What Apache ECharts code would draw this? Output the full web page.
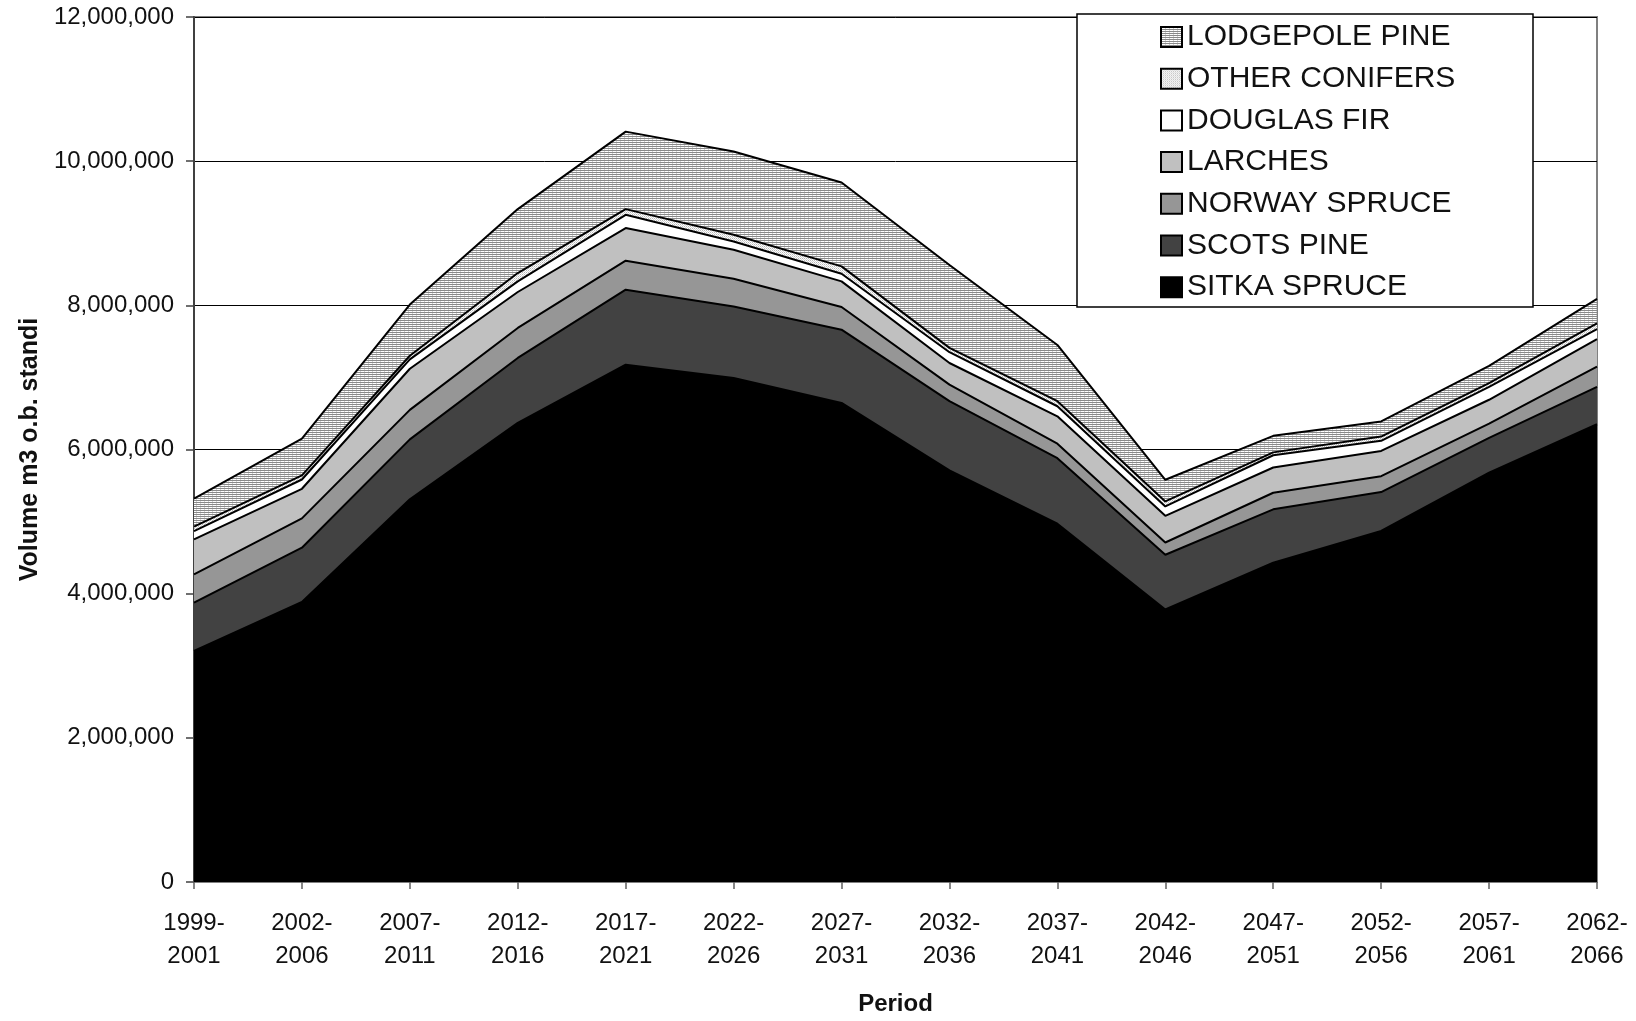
<!DOCTYPE html>
<html>
<head>
<meta charset="utf-8">
<script src="https://cdn.jsdelivr.net/npm/echarts@6/dist/echarts.min.js"></script>
<style>
  html, body { margin: 0; padding: 0; background: #fff; }
  #chart { width: 1636px; height: 1021px; }
</style>
</head>
<body>
<div id="chart"></div>
<script>
// Harvest volume forecast by species, stacked (m3 o.b. standing)
const periods = ['1999-\n2001', '2002-\n2006', '2007-\n2011', '2012-\n2016', '2017-\n2021',
  '2022-\n2026', '2027-\n2031', '2032-\n2036', '2037-\n2041', '2042-\n2046',
  '2047-\n2051', '2052-\n2056', '2057-\n2061', '2062-\n2066'];

const sitkaSpruce    = [3205000, 3884000, 5310000, 6370000, 7177000, 6993000, 6647000, 5710000, 4970000, 3780000, 4430000, 4870000, 5680000, 6350000];
const scotsPine      = [ 671000,  754000,  830000,  900000, 1040000,  992000, 1015000,  960000,  910000,  760000,  740000,  540000,  480000,  520000];
const norwaySpruce   = [ 392000,  406000,  410000,  416000,  402000,  384000,  315000,  230000,  200000,  170000,  230000,  220000,  200000,  280000];
const larches        = [ 485000,  411000,  570000,  499000,  453000,  402000,  355000,  300000,  380000,  370000,  350000,  350000,  330000,  380000];
const douglasFir     = [ 115000,  129000,  130000,  147000,  184000,  115000,  106000,  150000,  140000,  130000,  170000,  140000,  180000,  140000];
const otherConifers  = [  61000,   56000,   50000,  116000,   79000,   93000,  102000,   60000,   70000,   70000,   40000,   60000,   50000,   80000];
const lodgepolePine  = [ 388000,  510000,  710000,  887000, 1075000, 1154000, 1163000, 1150000,  780000,  300000,  230000,  210000,  240000,  340000];

const yTicks = { min: 0, max: 12000000, interval: 2000000 };

// Fill patterns
function makeHatch() {
  const c = document.createElement('canvas');
  c.width = 4; c.height = 2;
  const g = c.getContext('2d');
  g.fillStyle = '#ffffff'; g.fillRect(0, 0, 4, 2);
  g.fillStyle = '#8a8a8a'; g.fillRect(0, 0, 4, 1);
  g.fillStyle = '#d4d4d4'; g.fillRect(0, 1, 1, 1);
  return { image: c, repeat: 'repeat' };
}
function makeDots() {
  const c = document.createElement('canvas');
  c.width = 2; c.height = 2;
  const g = c.getContext('2d');
  g.fillStyle = '#ffffff'; g.fillRect(0, 0, 2, 2);
  g.fillStyle = '#b8b8b8'; g.fillRect(0, 0, 1, 1);
  g.fillStyle = '#d8d8d8'; g.fillRect(1, 1, 1, 1);
  return { image: c, repeat: 'repeat' };
}

const hatch = makeHatch();
const dots = makeDots();

const layers = [
  { name: 'SITKA SPRUCE',   data: sitkaSpruce,   fill: '#000000' },
  { name: 'SCOTS PINE',     data: scotsPine,     fill: '#424242' },
  { name: 'NORWAY SPRUCE',  data: norwaySpruce,  fill: '#969696' },
  { name: 'LARCHES',        data: larches,       fill: '#c0c0c0' },
  { name: 'DOUGLAS FIR',    data: douglasFir,    fill: '#ffffff' },
  { name: 'OTHER CONIFERS', data: otherConifers, fill: dots },
  { name: 'LODGEPOLE PINE', data: lodgepolePine, fill: hatch }
];

const font = '"Liberation Sans", Arial, sans-serif';
const chart = echarts.init(document.getElementById('chart'), null, { renderer: 'canvas' });

chart.setOption({
  animation: false,
  backgroundColor: '#ffffff',
  textStyle: { fontFamily: font },
  grid: {
    left: 194, right: 39, top: 17, bottom: 136,
    show: true, borderColor: '#808080', borderWidth: 2, backgroundColor: 'transparent'
  },
  graphic: [{
    type: 'rect', z: 1,
    shape: { x: 1077, y: 14, width: 456, height: 293 },
    style: { fill: '#ffffff', stroke: '#000000', lineWidth: 1.5 }
  }],
  legend: {
    z: 5,
    orient: 'vertical',
    left: 1160, top: 22,
    padding: 0,
    icon: 'rect',
    itemWidth: 21, itemHeight: 20,
    itemGap: 11.7,
    selectedMode: false,
    textStyle: { fontFamily: font, fontSize: 30, lineHeight: 30, color: '#111' },
    data: layers.slice().reverse().map(l => ({
      name: l.name,
      itemStyle: { color: l.fill, borderColor: '#000', borderWidth: 2 }
    }))
  },
  xAxis: {
    type: 'category',
    data: periods,
    boundaryGap: false,
    name: 'Period',
    nameLocation: 'middle',
    nameGap: 110,
    nameTextStyle: { fontFamily: font, fontSize: 24, fontWeight: 'bold', color: '#111' },
    axisLine: { lineStyle: { color: '#808080', width: 2 } },
    axisTick: { show: true, length: 7, lineStyle: { color: '#606060', width: 1.5 } },
    axisLabel: { fontFamily: font, fontSize: 24, lineHeight: 33, color: '#111', margin: 25, interval: 0 },
    splitLine: { show: false }
  },
  yAxis: {
    type: 'value',
    min: yTicks.min, max: yTicks.max, interval: yTicks.interval,
    name: 'Volume m3 o.b. standi',
    nameLocation: 'middle',
    nameGap: 149,
    nameRotate: 90,
    nameTextStyle: { fontFamily: font, fontSize: 25, fontWeight: 'bold', color: '#111' },
    axisLine: { show: true, lineStyle: { color: '#404040', width: 2 } },
    axisTick: { show: true, length: 8, lineStyle: { color: '#404040', width: 1.5 } },
    axisLabel: {
      fontFamily: font, fontSize: 24, color: '#111', margin: 20,
      formatter: v => v.toLocaleString('en-US')
    },
    splitLine: { show: true, lineStyle: { color: '#000000', width: 1 } }
  },
  series: layers.map(l => ({
    name: l.name,
    type: 'line',
    stack: 'volume',
    data: l.data,
    showSymbol: false,
    symbol: 'none',
    smooth: false,
    lineStyle: { color: '#000000', width: 2 },
    itemStyle: { color: l.fill },
    areaStyle: { color: l.fill, opacity: 1 },
    emphasis: { disabled: true }
  }))
});
</script>
</body>
</html>
